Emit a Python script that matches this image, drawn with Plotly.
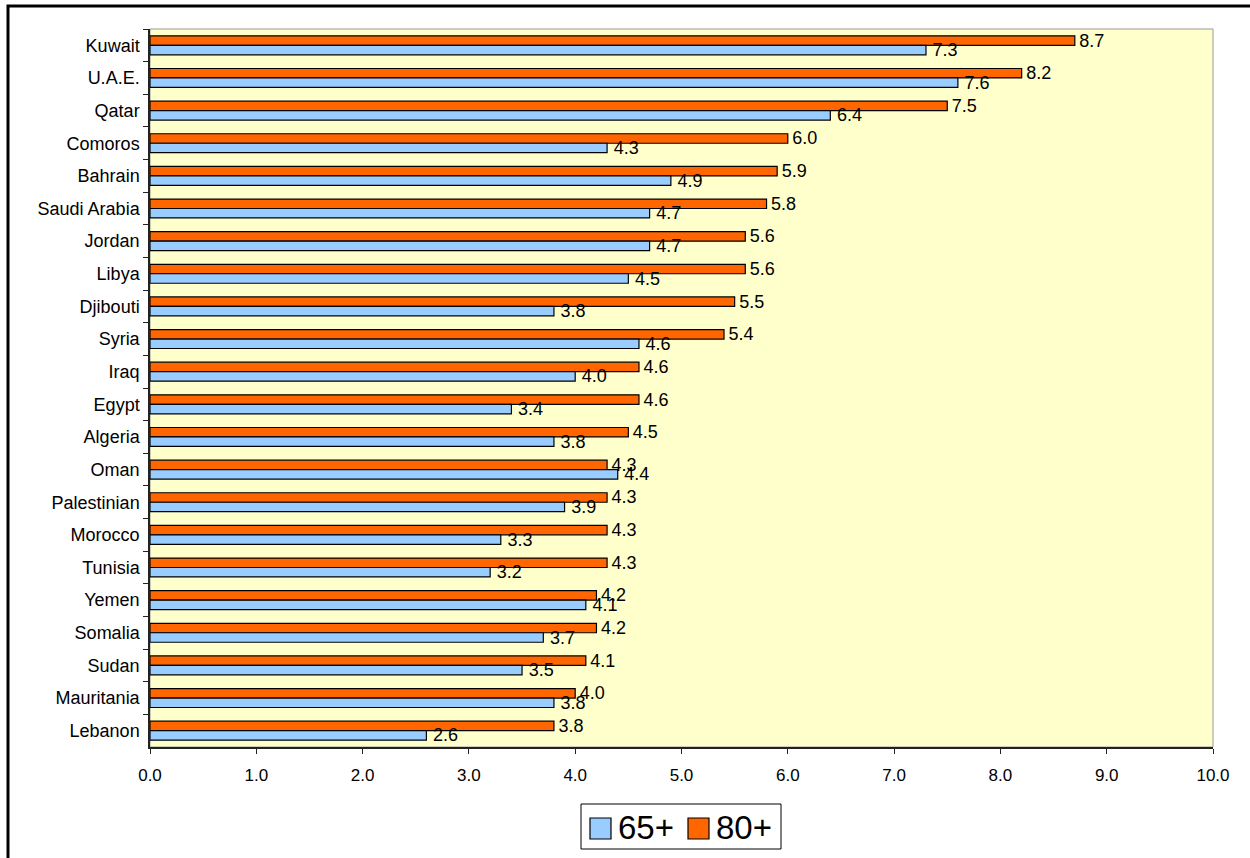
import plotly.graph_objects as go

# Share of population by age group (percent), by country
countries = ["Kuwait", "U.A.E.", "Qatar", "Comoros", "Bahrain", "Saudi Arabia", "Jordan",
             "Libya", "Djibouti", "Syria", "Iraq", "Egypt", "Algeria", "Oman", "Palestinian",
             "Morocco", "Tunisia", "Yemen", "Somalia", "Sudan", "Mauritania", "Lebanon"]
age_80 = [8.7, 8.2, 7.5, 6.0, 5.9, 5.8, 5.6, 5.6, 5.5, 5.4, 4.6, 4.6, 4.5, 4.3, 4.3,
          4.3, 4.3, 4.2, 4.2, 4.1, 4.0, 3.8]
age_65 = [7.3, 7.6, 6.4, 4.3, 4.9, 4.7, 4.7, 4.5, 3.8, 4.6, 4.0, 3.4, 3.8, 4.4, 3.9,
          3.3, 3.2, 4.1, 3.7, 3.5, 3.8, 2.6]
x_ticks = [0, 1, 2, 3, 4, 5, 6, 7, 8, 9, 10]

BLUE = "#99CCFF"
ORANGE = "#FF6600"
FONT = "Arial, Liberation Sans, sans-serif"

W, H = 1250, 858
L, R, T, B = 150, 37, 29, 111
PW, PH = W - L - R, H - T - B


def px(x):
    return (x - L) / PW


def py(y):
    return (H - B - y) / PH


fig = go.Figure()
for name, vals, color, pad in [("80+", age_80, ORANGE, "\u200a"), ("65+", age_65, BLUE, "\u2009")]:
    fig.add_trace(go.Bar(
        y=countries, x=vals, name=name, orientation="h",
        marker=dict(color=color, line=dict(color="black", width=1.2)),
        text=[f"{pad}{v:.1f}" for v in vals], textposition="outside",
        textfont=dict(family=FONT, size=18, color="black"),
        constraintext="none", cliponaxis=False,
    ))

fig.update_layout(
    width=W, height=H,
    margin=dict(l=L, r=R, t=T, b=B, pad=0),
    paper_bgcolor="white", plot_bgcolor="#FFFFCC",
    barmode="group", bargap=0.42, bargroupgap=0,
    showlegend=False,
    font=dict(family=FONT, size=17, color="black"),
    xaxis=dict(range=[0, 10], tickvals=x_ticks, tickformat=".1f",
               showgrid=False, zeroline=False,
               showline=True, linecolor="#222222", linewidth=1.5,
               ticks="outside", ticklen=5, tickcolor="#222222",
               tickfont=dict(family=FONT, size=17), ticklabelstandoff=7),
    yaxis=dict(autorange="reversed", type="category",
               showgrid=False, zeroline=False,
               showline=True, linecolor="#222222", linewidth=1.5,
               ticks="outside", ticklen=5, tickcolor="#222222", tickson="boundaries",
               tickfont=dict(family=FONT, size=18), ticklabelstandoff=5),
)

shapes = [
    # plot area border
    dict(type="rect", xref="paper", yref="paper", x0=0, x1=1, y0=0, y1=1,
         line=dict(color="#999999", width=1), layer="below"),
    # outer chart frame
    dict(type="rect", xref="paper", yref="paper",
         x0=px(8), x1=px(1275), y0=py(885), y1=py(6),
         line=dict(color="black", width=3)),
    # legend box
    dict(type="rect", xref="paper", yref="paper",
         x0=px(581), x1=px(781), y0=py(849), y1=py(804),
         line=dict(color="black", width=1), fillcolor="white"),
    dict(type="rect", xref="paper", yref="paper",
         x0=px(590), x1=px(611), y0=py(839), y1=py(818),
         line=dict(color="black", width=1.2), fillcolor=BLUE),
    dict(type="rect", xref="paper", yref="paper",
         x0=px(688), x1=px(709), y0=py(839), y1=py(818),
         line=dict(color="black", width=1.2), fillcolor=ORANGE),
]
fig.update_layout(shapes=shapes)

for label, x0 in [("65+", 616), ("80+", 714)]:
    fig.add_annotation(xref="paper", yref="paper", x=px(x0), y=py(827),
                       xanchor="left", yanchor="middle", showarrow=False,
                       text=label, font=dict(family=FONT, size=33, color="black"))

fig.write_html("out.html")
